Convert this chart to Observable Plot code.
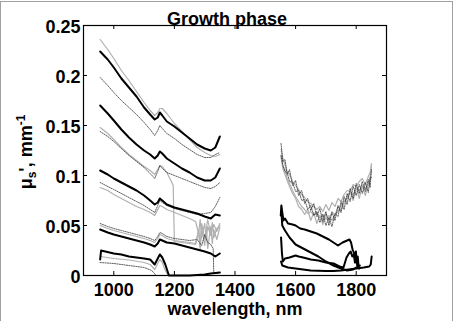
<!DOCTYPE html>
<html>
<head>
<meta charset="utf-8">
<script src="https://cdn.jsdelivr.net/npm/d3@7"></script>
<script src="https://cdn.jsdelivr.net/npm/@observablehq/plot@0.6"></script>
<style>
  html, body { margin: 0; padding: 0; background: #fff; }
  #chart { position: relative; width: 456px; height: 321px; overflow: hidden; }
  #edge { position: absolute; left: 0; top: 1px; width: 451px; height: 340px;
          border: 1px solid #a0a0a0; border-bottom: none; pointer-events: none; }
</style>
</head>
<body>
<div id="chart"><div id="edge"></div></div>
<script>
// Reduced scattering spectra, growth phase (wavelength in nm, mu_s' in 1/mm)

const title = "Growth phase";
const xLabel = "wavelength, nm";
const xTicks = [1000, 1200, 1400, 1600, 1800];
const xTickLabels = ["1000", "1200", "1400", "1600", "1800"];
const yTicks = [0, 0.05, 0.1, 0.15, 0.2, 0.25];
const yTickLabels = ["0", "0.05", "0.1", "0.15", "0.2", "0.25"];

// ---- 950-1350 nm band ----
const wlLeft = [955, 980, 1000, 1025, 1050, 1075, 1100, 1120, 1135, 1145, 1152, 1160, 1175, 1200, 1225, 1250, 1275, 1300, 1320, 1335, 1350];
const k1 = [0.224, 0.216, 0.208, 0.197, 0.188, 0.179, 0.168, 0.161, 0.156, 0.158, 0.163, 0.160, 0.154, 0.149, 0.143, 0.137, 0.131, 0.127, 0.125, 0.128, 0.139];
const k2 = [0.170, 0.162, 0.155, 0.146, 0.138, 0.131, 0.125, 0.121, 0.117, 0.120, 0.124, 0.122, 0.117, 0.112, 0.107, 0.103, 0.098, 0.095, 0.095, 0.098, 0.107];
const k3 = [0.105, 0.101, 0.097, 0.093, 0.089, 0.085, 0.080, 0.075, 0.071, 0.073, 0.077, 0.075, 0.071, 0.068, 0.066, 0.064, 0.062, 0.059, 0.057, 0.061, 0.060];
const k4 = [0.046, 0.043, 0.041, 0.039, 0.037, 0.035, 0.033, 0.031, 0.029, 0.032, 0.036, 0.035, 0.033, 0.032, 0.030, 0.028, 0.026, 0.024, 0.022, 0.019, 0.022];
const grayA = [0.236, 0.226, 0.217, 0.205, 0.195, 0.184, 0.173, 0.165, 0.160, 0.163, 0.167, 0.167, 0.162, 0.152, 0.144, 0.136, 0.128, 0.123, 0.120, 0.119, 0.121];
const dotB = [0.198, 0.190, 0.183, 0.175, 0.168, 0.161, 0.153, 0.146, 0.140, 0.145, 0.150, 0.147, 0.142, 0.137, 0.131, 0.126, 0.121, 0.118, 0.118, 0.121, 0.123];
const dotD = [0.144, 0.139, 0.134, 0.127, 0.120, 0.114, 0.108, 0.102, 0.097, 0.104, 0.110, 0.107, 0.103, 0.100, 0.097, 0.094, 0.091, 0.088, 0.087, 0.089, 0.093];
const dotF = [0.093, 0.089, 0.086, 0.082, 0.078, 0.074, 0.070, 0.066, 0.063, 0.070, 0.075, 0.073, 0.070, 0.067, 0.065, 0.063, 0.061, 0.062, 0.063, 0.069, 0.078];

const wlC = [955, 980, 1000, 1025, 1050, 1075, 1100, 1120, 1135, 1145, 1152, 1160, 1175, 1190, 1196, 1198, 1200, 1225, 1250, 1270, 1280, 1285, 1290, 1300, 1310, 1320, 1330, 1340, 1350];
const grayC = [0.148, 0.142, 0.136, 0.128, 0.121, 0.115, 0.109, 0.105, 0.101, 0.106, 0.110, 0.109, 0.103, 0.094, 0.090, 0.060, 0.034, 0.033, 0.032, 0.031, 0.046, 0.029, 0.052, 0.036, 0.056, 0.041, 0.051, 0.044, 0.052];

const wlNoisy = [955, 980, 1000, 1025, 1050, 1075, 1100, 1120, 1135, 1145, 1152, 1160, 1175, 1200, 1225, 1250, 1270, 1280, 1285, 1290, 1300, 1305, 1310, 1320, 1325, 1330, 1340, 1350];
const grayE = [0.088, 0.085, 0.081, 0.077, 0.073, 0.069, 0.066, 0.063, 0.060, 0.066, 0.070, 0.069, 0.066, 0.063, 0.060, 0.057, 0.054, 0.042, 0.056, 0.038, 0.052, 0.035, 0.049, 0.040, 0.053, 0.038, 0.047, 0.050];
const grayG = [0.050, 0.047, 0.045, 0.043, 0.041, 0.039, 0.037, 0.035, 0.033, 0.037, 0.041, 0.040, 0.037, 0.035, 0.034, 0.033, 0.032, 0.044, 0.026, 0.047, 0.030, 0.045, 0.027, 0.049, 0.032, 0.046, 0.036, 0.048];

const wlH = [955, 980, 1000, 1025, 1050, 1075, 1100, 1120, 1135, 1145, 1152, 1160, 1175, 1200, 1225, 1250, 1275, 1290, 1300, 1310, 1320, 1328, 1330, 1340, 1350];
const dotH = [0.052, 0.049, 0.047, 0.045, 0.043, 0.041, 0.039, 0.037, 0.035, 0.039, 0.043, 0.042, 0.039, 0.037, 0.036, 0.035, 0.036, 0.030, 0.041, 0.033, 0.031, 0.027, 0.002, 0.002, 0.003];

const wlK5 = [955, 958, 1000, 1025, 1050, 1075, 1100, 1120, 1135, 1145, 1152, 1160, 1170, 1182, 1200, 1250, 1300, 1320, 1350];
const k5 = [0.016, 0.025, 0.022, 0.021, 0.019, 0.018, 0.017, 0.016, 0.011, 0.017, 0.021, 0.018, 0.011, 0.000, 0.000, 0.000, 0.001, 0.002, 0.003];

const wlI = [955, 1000, 1050, 1100, 1120, 1135, 1145, 1152, 1160, 1170, 1180];
const grayI = [0.019, 0.017, 0.0155, 0.013, 0.011, 0.006, 0.012, 0.016, 0.013, 0.005, 0.000];
const wlJ = [955, 1000, 1050, 1100, 1125, 1140];
const dotJ = [0.013, 0.012, 0.010, 0.008, 0.005, 0.000];

// ---- 1550-1850 nm band ----
const wlRight = [1552, 1558, 1565, 1572, 1580, 1590, 1600, 1610, 1620, 1630, 1640, 1650, 1660, 1670, 1680, 1690, 1700, 1710, 1720, 1730, 1740, 1750, 1760, 1770, 1780, 1790, 1800, 1810, 1820, 1830, 1840, 1846, 1850];
const r1 = [0.132, 0.114, 0.116, 0.101, 0.106, 0.090, 0.095, 0.080, 0.085, 0.072, 0.077, 0.065, 0.072, 0.059, 0.067, 0.054, 0.064, 0.050, 0.063, 0.055, 0.070, 0.063, 0.079, 0.071, 0.087, 0.077, 0.092, 0.082, 0.094, 0.084, 0.096, 0.088, 0.106];
const r2 = [0.120, 0.110, 0.104, 0.103, 0.094, 0.093, 0.084, 0.085, 0.075, 0.076, 0.066, 0.070, 0.060, 0.064, 0.053, 0.061, 0.050, 0.058, 0.049, 0.062, 0.059, 0.074, 0.066, 0.082, 0.074, 0.089, 0.080, 0.091, 0.082, 0.093, 0.083, 0.098, 0.098];
const r3 = [0.118, 0.107, 0.101, 0.095, 0.089, 0.082, 0.077, 0.069, 0.066, 0.061, 0.066, 0.055, 0.063, 0.052, 0.060, 0.051, 0.062, 0.055, 0.064, 0.060, 0.069, 0.065, 0.073, 0.078, 0.084, 0.075, 0.089, 0.077, 0.090, 0.080, 0.092, 0.095, 0.112];
const r4 = [0.126, 0.117, 0.111, 0.104, 0.101, 0.094, 0.090, 0.086, 0.081, 0.078, 0.074, 0.072, 0.069, 0.066, 0.069, 0.064, 0.071, 0.065, 0.073, 0.069, 0.077, 0.074, 0.081, 0.085, 0.084, 0.091, 0.089, 0.094, 0.097, 0.091, 0.099, 0.103, 0.110];
const r5 = [0.120, 0.110, 0.105, 0.097, 0.092, 0.085, 0.079, 0.074, 0.069, 0.066, 0.062, 0.064, 0.060, 0.063, 0.058, 0.061, 0.056, 0.060, 0.055, 0.061, 0.064, 0.070, 0.074, 0.077, 0.083, 0.081, 0.087, 0.085, 0.090, 0.087, 0.092, 0.096, 0.106];

const wlA = [1551, 1553, 1556, 1560, 1565, 1575, 1590, 1600, 1615, 1630, 1650, 1670, 1690, 1710, 1725, 1740, 1755, 1770, 1778, 1783, 1788, 1792, 1796, 1799, 1802, 1805, 1808, 1812];
const kA = [0.060, 0.070, 0.063, 0.055, 0.057, 0.052, 0.051, 0.050, 0.047, 0.046, 0.044, 0.042, 0.039, 0.036, 0.033, 0.030, 0.033, 0.035, 0.036, 0.033, 0.026, 0.023, 0.018, 0.024, 0.012, 0.019, 0.009, 0.010];
const wlB = [1553, 1556, 1565, 1580, 1600, 1625, 1650, 1675, 1700, 1725, 1750, 1770, 1790, 1800];
const kB = [0.065, 0.050, 0.045, 0.038, 0.031, 0.027, 0.023, 0.019, 0.014, 0.010, 0.007, 0.005, 0.006, 0.008];
const wlCr = [1552, 1555, 1558, 1565, 1580, 1600, 1610, 1625, 1650, 1675, 1700, 1725, 1745, 1758, 1768, 1776, 1782, 1787, 1792, 1796, 1800, 1804, 1810];
const kC = [0.038, 0.022, 0.014, 0.017, 0.018, 0.020, 0.019, 0.018, 0.016, 0.015, 0.013, 0.012, 0.009, 0.008, 0.018, 0.022, 0.024, 0.019, 0.021, 0.013, 0.018, 0.008, 0.007];
const wlD = [1552, 1556, 1575, 1600, 1650, 1700, 1725, 1750, 1775, 1800, 1825, 1843, 1848, 1851];
const kD = [0.014, 0.010, 0.008, 0.007, 0.005, 0.0045, 0.0045, 0.005, 0.006, 0.007, 0.008, 0.009, 0.011, 0.019];

// ---- drawing ----
const W = 456, H = 321;
const mLeft = 83, mRight = 70, mTop = 25, mBottom = 46;
const frameW = W - mLeft - mRight, frameH = H - mTop - mBottom;
const tickLen = 4;
const font = "'Liberation Sans', Arial, Helvetica, sans-serif";
const fs = 18;

const rows = (wl, mu) => wl.map((w, i) => ({wl: w, mu: mu[i]}));
const black = {stroke: "#000", strokeWidth: 2};
const gray = {stroke: "#b0b0b0", strokeWidth: 1.2};
const dotted = {stroke: "#333", strokeWidth: 0.8, strokeDasharray: "1.2,1.2"};
const line = (wl, mu, style) => Plot.line(rows(wl, mu), {x: "wl", y: "mu", ...style});

const plot = Plot.plot({
  width: W, height: H,
  marginLeft: mLeft, marginRight: mRight, marginTop: mTop, marginBottom: mBottom,
  style: {fontFamily: font, fontWeight: "bold", fontSize: `${fs}px`, background: "transparent", color: "#000"},
  x: {domain: [900, 1900]},
  y: {domain: [0, 0.25]},
  marks: [
    // grey spectra
    line(wlLeft, grayA, gray),
    line(wlC, grayC, gray),
    line(wlNoisy, grayE, gray),
    line(wlNoisy, grayG, gray),
    line(wlI, grayI, gray),
    line(wlRight, r3, gray),
    line(wlRight, r4, gray),
    line(wlRight, r5, gray),
    // dotted spectra
    line(wlLeft, dotB, dotted),
    line(wlLeft, dotD, dotted),
    line(wlLeft, dotF, dotted),
    line(wlH, dotH, dotted),
    line(wlJ, dotJ, dotted),
    line(wlRight, r1, dotted),
    line(wlRight, r2, dotted),
    // black spectra
    line(wlLeft, k1, black),
    line(wlLeft, k2, black),
    line(wlLeft, k3, black),
    line(wlLeft, k4, black),
    line(wlK5, k5, black),
    line(wlA, kA, black),
    line(wlB, kB, black),
    line(wlCr, kC, black),
    line(wlD, kD, black),
    // box with inward ticks on all four sides
    Plot.frame({stroke: "#000", strokeWidth: 1.2}),
    Plot.tickY(yTicks, {insetRight: frameW - tickLen, stroke: "#000"}),
    Plot.tickY(yTicks, {insetLeft: frameW - tickLen, stroke: "#000"}),
    Plot.tickX(xTicks, {insetTop: frameH - tickLen, stroke: "#000"}),
    Plot.tickX(xTicks, {insetBottom: frameH - tickLen, stroke: "#000"}),
    // tick labels
    Plot.axisY(yTicks, {anchor: "left", tickSize: 0, tickPadding: 3, dy: 2, label: null,
      tickFormat: (d, i) => yTickLabels[i], fontSize: fs, fontWeight: "bold"}),
    Plot.axisX(xTicks, {anchor: "bottom", tickSize: 0, tickPadding: 8, label: null,
      tickFormat: (d, i) => xTickLabels[i], fontSize: fs, fontWeight: "bold"}),
    // title and x label
    Plot.text([title], {frameAnchor: "top", lineAnchor: "bottom", dx: -8, dy: -1,
      fontSize: fs, fontWeight: "bold", fill: "#000"}),
    Plot.text([xLabel], {frameAnchor: "bottom", lineAnchor: "bottom", dy: 39,
      fontSize: fs, fontWeight: "bold", fill: "#000"})
  ]
});

// y label with subscript and superscript
const yl = d3.select(plot).append("text")
  .attr("transform", `translate(31.5,${mTop + frameH / 2 + 2}) rotate(-90)`)
  .attr("text-anchor", "middle")
  .attr("font-size", fs)
  .attr("font-weight", "bold")
  .attr("fill", "#000");
yl.append("tspan").text("\u03bc");
yl.append("tspan").attr("font-size", 12).attr("dy", 4).text("s");
yl.append("tspan").attr("dy", -4).text("', mm");
yl.append("tspan").attr("font-size", 12).attr("dy", -7).text("-1");

document.getElementById("chart").prepend(plot);
</script>
</body>
</html>
